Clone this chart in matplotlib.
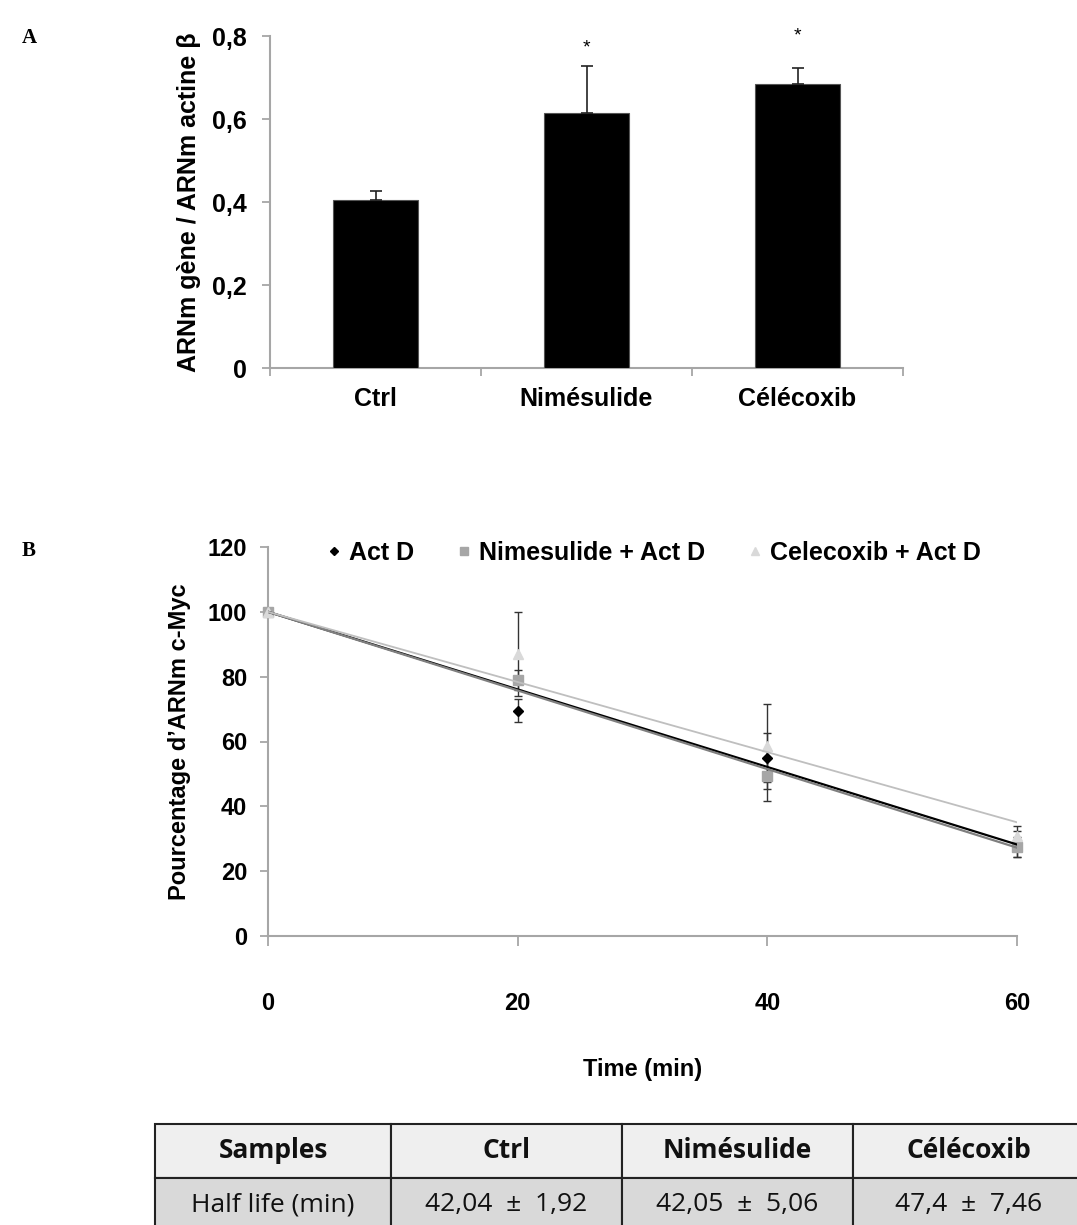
import matplotlib
matplotlib.use("Agg")
import matplotlib.pyplot as plt
import matplotlib.patches as patches
from matplotlib.lines import Line2D
import numpy as np


# panel A : relative expression
categories_a = ["Ctrl", "Nimésulide", "Célécoxib"]
ratio_mean = [0.405, 0.615, 0.685]
ratio_err = [0.022, 0.112, 0.037]
signif = ["", "*", "*"]
yticks_a = [0, 0.2, 0.4, 0.6, 0.8]
yticklabels_a = ["0", "0,2", "0,4", "0,6", "0,8"]

# panel B : mRNA decay after actinomycin D
time_min = [0, 20, 40, 60]
actd_mean = [100, 69.5, 55, 28.5]
actd_err = [0, 3.5, 7.5, 4]
nime_mean = [100, 79, 49.5, 27.5]
nime_err = [0, 3, 8, 3]
cele_mean = [100, 87, 58.5, 31]
cele_err = [0, 13, 13, 3]
series_names = ["Act D", "Nimesulide + Act D", "Celecoxib + Act D"]

# half-life table
table_header = ["Samples", "Ctrl", "Nimésulide", "Célécoxib"]
table_row = ["Half life (min)", "42,04  ±  1,92", "42,05  ±  5,06", "47,4  ±  7,46"]

W, H = 1077, 1225
BOLD = ["Liberation Sans", "DejaVu Sans"]
AXIS_GREY = "#a6a6a6"

fig = plt.figure(figsize=(W / 100, H / 100), dpi=100)

fig.text(22 / W, 1 - 38 / H, "A", family=["Liberation Serif"], weight="bold",
         fontsize=15, va="center", ha="left")
fig.text(22 / W, 1 - 551 / H, "B", family=["Liberation Serif"], weight="bold",
         fontsize=15, va="center", ha="left")

# ---------------- panel A ----------------
ax_a = fig.add_axes([270 / W, 1 - 368 / H, 633 / W, 332 / H])
xpos = np.arange(len(categories_a)) + 0.5
ax_a.bar(xpos, ratio_mean, width=0.4, color="black", edgecolor="#555555", linewidth=0.8,
         yerr=[np.zeros(len(ratio_err)), ratio_err], capsize=4,
         error_kw=dict(ecolor="#222222", elinewidth=1.2, capthick=1.2), zorder=3)
star_level = [0.0, 0.772, 0.8]
for x, s, lev in zip(xpos, signif, star_level):
    if s:
        ax_a.text(x, lev, s, ha="center", va="center", fontsize=14, family=BOLD)

ax_a.set_xlim(0, 3)
ax_a.set_ylim(0, 0.8)
ax_a.set_xticks([0, 1, 2, 3])
ax_a.set_xticklabels([])
ax_a.set_xticks(xpos, minor=True)
ax_a.set_xticklabels(categories_a, minor=True, family=BOLD, weight="bold", fontsize=18)
ax_a.tick_params(axis="x", which="minor", length=0, pad=14)
ax_a.tick_params(axis="x", which="major", length=6, width=1.3, color=AXIS_GREY)
ax_a.set_yticks(yticks_a)
ax_a.set_yticklabels(yticklabels_a, family=BOLD, weight="bold", fontsize=18)
ax_a.tick_params(axis="y", length=6, width=1.3, color=AXIS_GREY, pad=11)
for side in ["top", "right"]:
    ax_a.spines[side].set_visible(False)
for side in ["left", "bottom"]:
    ax_a.spines[side].set_color(AXIS_GREY)
    ax_a.spines[side].set_linewidth(1.5)
ax_a.set_ylabel("ARNm gène / ARNm actine β", family=BOLD, weight="bold", fontsize=18, labelpad=8)

# ---------------- panel B ----------------
ax_b = fig.add_axes([268 / W, 1 - 936 / H, 749 / W, 389 / H])
t = np.array(time_min, dtype=float)
styles = [
    (actd_mean, actd_err, "D", "black", 5.5, "black", 1.6),
    (nime_mean, nime_err, "s", "#a6a6a6", 7, "#7f7f7f", 1.6),
    (cele_mean, cele_err, "^", "#d9d9d9", 7, "#bfbfbf", 1.3),
]
handles = []
for (mean, err, mk, col, ms, lcol, lw), name in zip(styles, series_names):
    y = np.array(mean, dtype=float)
    ax_b.errorbar(t, y, yerr=err, fmt=mk, color=col, markersize=ms, ecolor="#333333",
                  elinewidth=1.0, capsize=3, capthick=1.0, zorder=3, clip_on=False)
    # linear trendline with intercept fixed at 100 %
    slope = np.sum(t * (y - 100)) / np.sum(t * t)
    tt = np.array([t[0], t[-1]])
    ax_b.plot(tt, 100 + slope * tt, color=lcol, linewidth=lw, zorder=4)
    handles.append(Line2D([], [], linestyle="none", marker=mk, color=col, markersize=ms * 0.8,
                          label=name))

ax_b.set_xlim(0, 60)
ax_b.set_ylim(0, 120)
ax_b.set_xticks(time_min)
ax_b.set_xticklabels([str(v) for v in time_min], family=BOLD, weight="bold", fontsize=17)
ax_b.set_yticks(range(0, 121, 20))
ax_b.set_yticklabels([str(v) for v in range(0, 121, 20)], family=BOLD, weight="bold", fontsize=17)
ax_b.tick_params(axis="x", length=7, width=1.3, color=AXIS_GREY, pad=33)
ax_b.tick_params(axis="y", length=6, width=1.3, color=AXIS_GREY, pad=9)
for side in ["top", "right"]:
    ax_b.spines[side].set_visible(False)
for side in ["left", "bottom"]:
    ax_b.spines[side].set_color(AXIS_GREY)
    ax_b.spines[side].set_linewidth(1.5)
ax_b.set_xlabel("Time (min)", family=BOLD, weight="bold", fontsize=17, labelpad=31)
ax_b.set_ylabel("Pourcentage d\u2019ARNm c-Myc", family=BOLD, weight="bold", fontsize=17,
                labelpad=12)
fig.legend(handles=handles, loc="center", bbox_to_anchor=(654 / W, 1 - 553 / H), ncol=3,
           frameon=False, handlelength=0.6, handletextpad=0.3, columnspacing=1.7,
           prop=dict(family=BOLD, weight="bold", size=18))

# ---------------- table ----------------
ax_t = fig.add_axes([155 / W, -7 / H, 929 / W, 108 / H])
ax_t.set_xlim(155, 1084)
ax_t.set_ylim(1232, 1124)
ax_t.axis("off")
col_edges = [155, 391, 622, 853, 1084]
row_edges = [1124, 1178, 1232]
row_fill = ["#efefef", "#d9d9d9"]
for r, (cells, fill) in enumerate(zip([table_header, table_row], row_fill)):
    for c, txt in enumerate(cells):
        x0, x1 = col_edges[c], col_edges[c + 1]
        y0, y1 = row_edges[r], row_edges[r + 1]
        ax_t.add_patch(patches.Rectangle((x0, y0), x1 - x0, y1 - y0, facecolor=fill,
                                         edgecolor="#222222", linewidth=1.5, clip_on=False))
        ax_t.text((x0 + x1) / 2, (y0 + y1) / 2, txt, ha="center", va="center",
                  family=["Open Sans", "Lato", "DejaVu Sans"], fontsize=19,
                  weight="bold" if r == 0 else "normal", color="#111111")

fig.savefig("out.png", dpi=100)
